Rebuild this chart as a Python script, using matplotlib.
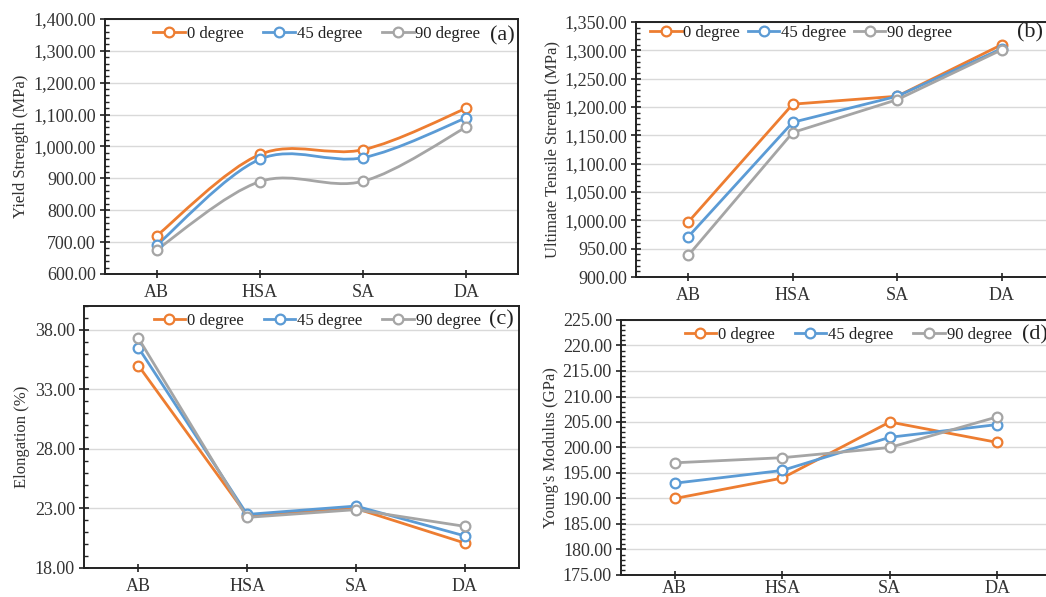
import numpy as np
import matplotlib
matplotlib.use("Agg")
import matplotlib.pyplot as plt
from matplotlib.path import Path
from matplotlib.patches import PathPatch
from matplotlib.lines import Line2D
from matplotlib.ticker import MultipleLocator, FuncFormatter

plt.rcParams['font.family'] = ['Liberation Serif', 'DejaVu Serif']

cats = ['AB', 'HSA', 'SA', 'DA']
series = ['0 degree', '45 degree', '90 degree']
colors = ['#ED7D31', '#5B9BD5', '#A5A5A5']

yield_0 = [720, 975, 990, 1120]
yield_45 = [690, 960, 965, 1090]
yield_90 = [676, 890, 891, 1061]

uts_0 = [997, 1205, 1219, 1310]
uts_45 = [971, 1173, 1219, 1303]
uts_90 = [938, 1155, 1213, 1301]

elong_0 = [35.0, 22.4, 23.0, 20.1]
elong_45 = [36.5, 22.5, 23.2, 20.7]
elong_90 = [37.3, 22.25, 22.9, 21.5]

mod_0 = [190, 194, 205, 201]
mod_45 = [193, 195.5, 202, 204.5]
mod_90 = [197, 198, 200, 206]

W, H = 1046, 597
fig = plt.figure(figsize=(W / 100, H / 100), dpi=100)


def box(l, r, t, b):
    return [l / W, 1 - b / H, (r - l) / W, (b - t) / H]


def smooth(ax, x, y, color):
    # Excel style smoothed line: cubic Bezier through points
    x = np.asarray(x, float)
    y = np.asarray(y, float)
    px = np.concatenate([[x[0]], x, [x[-1]]])
    py = np.concatenate([[y[0]], y, [y[-1]]])
    verts = [(x[0], y[0])]
    codes = [Path.MOVETO]
    for i in range(len(x) - 1):
        c1 = (px[i + 1] + (px[i + 2] - px[i]) / 6, py[i + 1] + (py[i + 2] - py[i]) / 6)
        c2 = (px[i + 2] - (px[i + 3] - px[i + 1]) / 6, py[i + 2] - (py[i + 3] - py[i + 1]) / 6)
        verts += [c1, c2, (x[i + 1], y[i + 1])]
        codes += [Path.CURVE4] * 3
    ax.add_patch(PathPatch(Path(verts, codes), fill=False, edgecolor=color,
                           lw=2.0, zorder=3, capstyle='round'))


def panel(rect, data, ylim, major, minor, ylabel, tag, label_x, leg_xy, tag_xy,
          colsp, smoothed=False, fmt='{:,.2f}', offset=0, xpad=4):
    ax = fig.add_axes(rect)
    x = np.arange(len(cats))
    for vals, c in zip(data, colors):
        if smoothed:
            smooth(ax, x, vals, c)
            ax.plot(x, vals, 'o', color=c, mfc='white', mec=c, ms=7, mew=1.6, zorder=4)
        else:
            ax.plot(x, vals, '-o', color=c, lw=2.0, mfc='white', mec=c, ms=7, mew=1.6, zorder=4)
    ax.set_xlim(-0.5, len(cats) - 0.5)
    ax.set_ylim(*ylim)
    ax.set_xticks(x)
    ax.set_xticklabels(cats, fontsize=13)
    ax.yaxis.set_major_locator(MultipleLocator(major, offset=offset))
    ax.yaxis.set_minor_locator(MultipleLocator(minor))
    ax.yaxis.set_major_formatter(FuncFormatter(lambda v, p: fmt.format(v)))
    ax.tick_params(axis='y', which='major', direction='inout', length=7, width=1.2,
                   labelsize=13, pad=3, colors='#222222', labelcolor='#333333')
    ax.tick_params(axis='y', which='minor', direction='in', length=3, width=1.0, colors='#222222')
    ax.tick_params(axis='x', direction='inout', length=6, width=1.2, pad=xpad,
                   colors='#222222', labelcolor='#333333')
    ax.grid(axis='y', which='major', color='#D9D9D9', lw=1.0)
    ax.set_axisbelow(True)
    for s in ax.spines.values():
        s.set_color('#222222')
        s.set_linewidth(1.4)
    ax.set_ylabel(ylabel, fontsize=12, color='#333333')
    ax.yaxis.set_label_coords(label_x, 0.5)
    handles = [Line2D([], [], color=c, lw=2.0, marker='o', mfc='white', mec=c, ms=7, mew=1.6)
               for c in colors]
    ax.legend(handles, series, loc='center', bbox_to_anchor=leg_xy, ncol=3, frameon=False,
              fontsize=12, handlelength=1.9, handletextpad=0.1, columnspacing=colsp,
              borderpad=0, labelcolor='#222222')
    ax.text(tag_xy[0], tag_xy[1], tag, transform=ax.transAxes, fontsize=16,
            ha='center', va='center', color='#222222')
    return ax


panel(box(105, 518, 19, 274), [yield_0, yield_45, yield_90], (600, 1400), 100, 20,
      'Yield Strength (MPa)', '(a)', -0.184, (0.513, 0.941), (0.961, 0.933), 1.2, smoothed=True)
panel(box(636, 1054, 22, 277), [uts_0, uts_45, uts_90], (900, 1350), 50, 10,
      'Ultimate Tensile Strength (MPa)', '(b)', -0.179, (0.395, 0.956), (0.942, 0.956), 0.45)
panel(box(84, 519, 306, 568), [elong_0, elong_45, elong_90], (18, 40), 5, 1,
      'Elongation (%)', '(c)', -0.125, (0.536, 0.943), (0.96, 0.947), 1.2, fmt='{:.2f}', offset=3)
panel(box(621, 1051, 320, 575), [mod_0, mod_45, mod_90], (175, 225), 5, 1,
      "Young's Modulus (GPa)", '(d)', -0.144, (0.528, 0.941), (0.962, 0.941), 1.2,
      fmt='{:.2f}', xpad=0.5)

fig.savefig('out.png', dpi=100)
